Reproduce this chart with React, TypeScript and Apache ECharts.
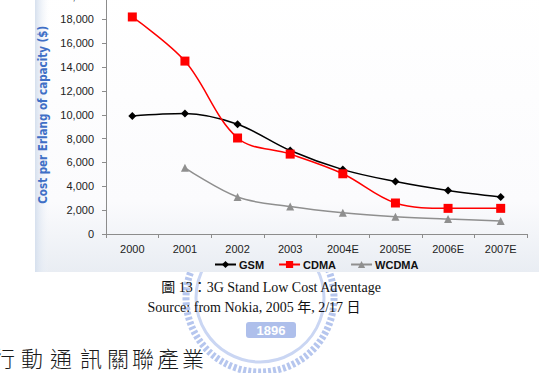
import React, { useEffect, useRef } from "react";
import * as echarts from "echarts";

const categories = ["2000", "2001", "2002", "2003", "2004E", "2005E", "2006E", "2007E"];
const gsm = [9900, 10100, 9200, 7000, 5400, 4400, 3650, 3100];
const cdma = [18200, 14500, 8050, 6700, 5050, 2600, 2150, 2150];
const wcdma = [null, 5550, 3100, 2300, 1780, 1450, 1250, 1100];
const yTicks = { min: 0, max: 20000, interval: 2000 };
const yAxisName = "Cost per Erlang of capacity ($)";
const caption = "圖 13：3G Stand Low Cost Adventage";
const source = "Source: from Nokia, 2005 年, 2/17 日";
const heading = ["行", "動", "通", "訊", "關", "聯", "產", "業"];

// the chart canvas is shifted up by D px so the top tick label is cut like the scan
const D = 10;

export default function App() {
  const ref = useRef<HTMLDivElement>(null);
  useEffect(() => {
    if (!ref.current) return;
    const chart = echarts.init(ref.current, undefined, { renderer: "svg" });
    const sans = "'Liberation Sans', Arial, sans-serif";
    const headX = [-7, 21, 50, 80, 107, 132, 157, 182];
    const headingEls = heading.map((ch, i) => ({
      type: "text",
      x: headX[i],
      y: 346 + D,
      z: -5,
      style: { text: ch, fontSize: 22, fontFamily: "'Noto Sans CJK TC', sans-serif", fill: "#1a1a1a", fontWeight: 300 },
    }));
    chart.setOption({
      animation: false,
      backgroundColor: "#ffffff",
      textStyle: { fontFamily: sans },
      graphic: [
        // watermark logo
        {
          type: "circle", z: -20, shape: { cx: 260, cy: 298 + D, r: 74 },
          style: { fill: "none", stroke: "#b6c6ee", lineWidth: 7, lineDash: [3, 2] },
        },
        {
          type: "circle", z: -20, shape: { cx: 260, cy: 298 + D, r: 64 },
          style: { fill: "none", stroke: "#cad6f3", lineWidth: 3 },
        },
        {
          type: "rect", z: -20, shape: { x: 246, y: 322 + D, width: 50, height: 16, r: 3 },
          style: { fill: "#aebfeb" },
        },
        {
          type: "text", z: -19, x: 271, y: 330 + D,
          style: { text: "1896", fill: "#ffffff", fontSize: 13, fontWeight: "bold", fontFamily: sans, align: "center", verticalAlign: "middle" },
        },
        // chart panel background
        {
          type: "rect", z: -10, shape: { x: 35, y: 0, width: 504, height: 272 + D },
          style: {
            fill: new echarts.graphic.LinearGradient(0, 0, 0, 1, [
              { offset: 0, color: "#ffffff" },
              { offset: 0.75, color: "#fbfbfd" },
              { offset: 1, color: "#e9edf3" },
            ]),
          },
        },
        {
          type: "rect", z: -9, shape: { x: 35, y: 0, width: 14, height: 272 + D },
          style: {
            fill: new echarts.graphic.LinearGradient(0, 0, 1, 0, [
              { offset: 0, color: "#d6e0ee" },
              { offset: 1, color: "rgba(240,244,250,0)" },
            ]),
          },
        },
        {
          type: "text", z: 5, x: 271, y: 287 + D,
          style: { text: caption, fontSize: 14, fontFamily: "'Liberation Serif', 'Noto Sans CJK TC', serif", fill: "#111", align: "center", verticalAlign: "middle" },
        },
        {
          type: "text", z: 5, x: 254, y: 307 + D,
          style: { text: source, fontSize: 14, fontFamily: "'Liberation Serif', 'Noto Sans CJK TC', serif", fill: "#111", align: "center", verticalAlign: "middle" },
        },
        ...headingEls,
      ],
      grid: { left: 106, right: 12, top: 5, bottom: 139, containLabel: false },
      legend: {
        left: 209,
        top: 264,
        itemWidth: 21,
        itemHeight: 9,
        itemGap: 14,
        textStyle: { fontSize: 11, fontWeight: "bold", color: "#111", fontFamily: sans, padding: [0, 0, 0, -2] },
        data: ["GSM", "CDMA", "WCDMA"],
      },
      xAxis: {
        type: "category",
        data: categories,
        boundaryGap: true,
        axisLine: { lineStyle: { color: "#8c8c8c", width: 1 } },
        axisTick: { show: true, length: 4, lineStyle: { color: "#8c8c8c" } },
        axisLabel: { fontSize: 11, color: "#222", margin: 9, fontFamily: sans },
      },
      yAxis: {
        type: "value",
        min: yTicks.min,
        max: yTicks.max,
        interval: yTicks.interval,
        name: yAxisName,
        nameLocation: "middle",
        nameRotate: 90,
        nameGap: 54,
        nameTextStyle: {
          color: "#3f6fc6",
          fontSize: 11.5,
          fontWeight: "bold",
          fontFamily: "'Liberation Sans Narrow', 'DejaVu Sans Condensed', Arial, sans-serif",
        },
        axisLine: { show: true, lineStyle: { color: "#8c8c8c", width: 1 } },
        axisTick: { show: true, length: 4, lineStyle: { color: "#8c8c8c" } },
        splitLine: { show: false },
        axisLabel: {
          fontSize: 11,
          color: "#222",
          margin: 12,
          fontFamily: sans,
          formatter: (v: number) => v.toLocaleString("en-US"),
        },
      },
      series: [
        {
          name: "GSM", type: "line", data: gsm, smooth: 0.35,
          symbol: "diamond", symbolSize: 8,
          lineStyle: { color: "#000000", width: 1.5 },
          itemStyle: { color: "#000000" },
        },
        {
          name: "CDMA", type: "line", data: cdma, smooth: 0.35,
          symbol: "rect", symbolSize: 9,
          lineStyle: { color: "#ff0000", width: 1.5 },
          itemStyle: { color: "#ff0000" },
        },
        {
          name: "WCDMA", type: "line", data: wcdma, smooth: 0.35,
          symbol: "triangle", symbolSize: 8,
          lineStyle: { color: "#8f8f8f", width: 1.5 },
          itemStyle: { color: "#8f8f8f" },
        },
      ],
    });
    return () => chart.dispose();
  }, []);
  return (
    <div
      ref={ref}
      style={{ position: "fixed", left: 0, top: -D, width: 539, height: 373 + D }}
    />
  );
}
